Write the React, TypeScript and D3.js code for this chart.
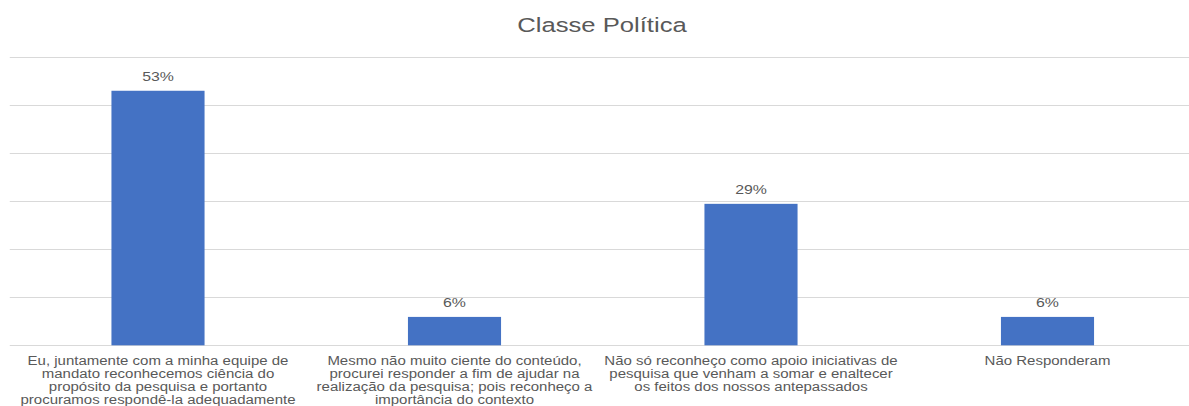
import React from "react";
import * as d3 from "d3";

const title = "Classe Política";
const categories: string[][] = [
  ["Eu, juntamente com a minha equipe de", "mandato reconhecemos ciência do", "propósito da pesquisa e portanto", "procuramos respondê-la adequadamente"],
  ["Mesmo não muito ciente do conteúdo,", "procurei responder a fim de ajudar na", "realização da pesquisa; pois reconheço a", "importância do contexto"],
  ["Não só reconheço como apoio iniciativas de", "pesquisa que venham a somar e enaltecer", "os feitos dos nossos antepassados"],
  ["Não Responderam"],
];
const values = [0.529, 0.059, 0.294, 0.059];
const yTicks = [0, 0.1, 0.2, 0.3, 0.4, 0.5, 0.6];

const W = 1189;
const H = 406;
const SX = 1.25;
const FONT = "'Liberation Sans', Arial, sans-serif";
const TEXT = "#595959";

export default function App() {
  const keys = categories.map((_, i) => String(i));
  const x = d3.scaleBand<string>().domain(keys).range([9.75, 1195.75]).paddingInner(0.686).paddingOuter(0.343);
  const y = d3.scaleLinear().domain([0, 0.6]).range([345.3, 56.6]);
  const fmt = d3.format(".0%");
  const cx = (i: number) => (x(String(i)) as number) + x.bandwidth() / 2;
  return (
    <svg width={W} height={H} style={{ position: "absolute", left: 0, top: 0, background: "#fff" }} fontFamily={FONT}>
      <rect width={W} height={H} fill="#fff" />
      <text transform={`translate(602,32) scale(${SX},1)`} textAnchor="middle" fontSize={20.5} fill={TEXT}>{title}</text>
      {yTicks.map((t) => (
        <line key={t} x1={9.75} x2={1195.75} y1={Math.round(y(t)) + 0.5} y2={Math.round(y(t)) + 0.5} stroke="#d9d9d9" strokeWidth={1} />
      ))}
      {values.map((v, i) => (
        <rect key={i} x={x(String(i))} y={y(v)} width={x.bandwidth()} height={y(0) - y(v)} fill="#4472c4" />
      ))}
      {values.map((v, i) => (
        <text key={i} transform={`translate(${cx(i)},${y(v) - 9.5}) scale(${SX},1)`} textAnchor="middle" fontSize={12.7} fill={TEXT}>{fmt(v)}</text>
      ))}
      {categories.map((lines, i) =>
        lines.map((ln, j) => (
          <text key={`${i}-${j}`} transform={`translate(${cx(i)},${364.5 + j * 13}) scale(${SX},1)`} textAnchor="middle" fontSize={12} fill={TEXT}>{ln}</text>
        ))
      )}
    </svg>
  );
}
